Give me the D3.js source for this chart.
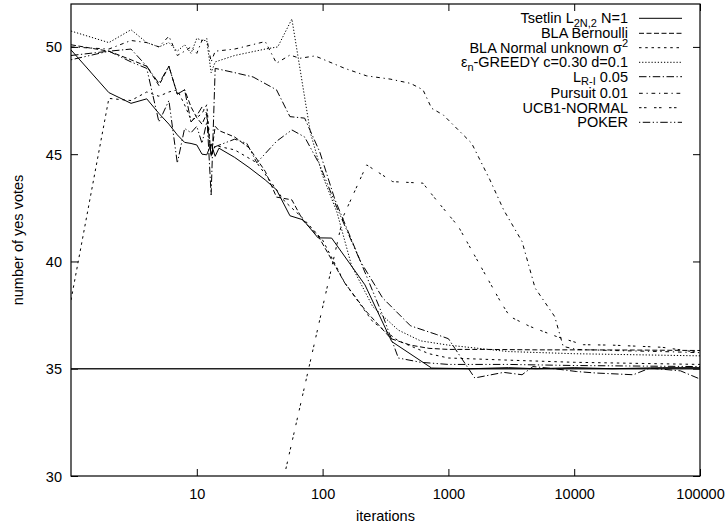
<!DOCTYPE html>
<html><head><meta charset="utf-8">
<script src="https://cdn.jsdelivr.net/npm/d3@7"></script>
<style>body{margin:0;background:#fff}svg text{font-family:"Liberation Sans",Arial,sans-serif;font-size:14.5px;fill:#000}</style>
</head><body>
<svg id="c" width="727" height="527"></svg>
<script>
// ---- data ----
const xTicks = [10, 100, 1000, 10000, 100000];
const yTicks = [30, 35, 40, 45, 50];
const xDomain = [1, 100000];
const yDomain = [30, 52];
const targetVotes = 35;
const xLabel = "iterations";
const yLabel = "number of yes votes";

const tsetlin = [[1,49.86],[2,47.87],[3,47.37],[4,47.58],[5,46.9],[6,46.4],[7,45.9],[8,45.55],[9,45.5],[10,45.43],[11,45.0],[12,44.97],[13,45.48],[14,44.9],[15,45.28],[20,44.85],[26,44.38],[35,43.8],[43,43.34],[55,42.13],[70,41.94],[92,41.1],[118,41.09],[217,38.91],[354,36.27],[736,35.03],[1500,35.0],[3000,35.05],[5000,35.0],[10000,35.05],[20000,35.0],[50000,35.05],[100000,35.05]];
const blaBernoulli = [[1,50.1],[2,49.8],[3,49.4],[4,49.1],[5,48.2],[6,49.1],[7,47.8],[8,48.0],[9,47.2],[10,46.7],[11,46.4],[12,46.9],[13,44.9],[14,46.3],[15,46.1],[20,45.8],[26,45.3],[35,44.2],[43,43.0],[48,42.95],[57,42.87],[70,41.9],[92,41.2],[150,39.0],[220,37.7],[350,36.4],[500,36.1],[700,35.95],[1000,35.9],[2000,35.9],[5000,35.88],[10000,35.88],[30000,35.87],[100000,35.85]];
const blaNormal = [[1,38.2],[2,47.6],[3,47.5],[4,47.9],[5,47.7],[6,47.9],[7,48.0],[8,47.3],[9,46.6],[10,46.7],[11,46.9],[12,47.3],[13,44.9],[14,45.4],[20,45.2],[30,44.6],[40,43.6],[50,42.8],[70,42.0],[100,41.0],[150,39.0],[250,37.2],[400,36.3],[700,35.7],[1000,35.5],[3000,35.4],[10000,35.3],[100000,35.2]];
const epsGreedy = [[1,50.74],[2,50.2],[3,50.8],[4,50.2],[5,50.0],[6,50.2],[7,49.8],[8,50.1],[9,49.7],[10,50.4],[11,50.3],[12,50.3],[13,48.8],[14,49.3],[20,49.6],[35,49.9],[44,50.0],[57,51.3],[80,46.0],[100,44.0],[130,42.3],[170,39.8],[250,37.9],[400,36.8],[600,36.3],[1000,36.1],[3000,35.8],[10000,35.7],[100000,35.6]];
const lri = [[1,49.6],[2,49.8],[3,49.9],[4,49.1],[5,48.3],[6,49.1],[7,47.8],[8,48.0],[9,46.5],[10,46.8],[11,47.2],[12,46.9],[13,43.1],[14,49.0],[20,48.8],[28,48.6],[43,48.0],[55,46.75],[72,46.68],[95,45.1],[125,42.9],[200,40.0],[300,38.3],[500,37.0],[800,36.6],[1000,36.4],[1350,35.26],[1620,34.57],[2750,34.83],[3850,34.72],[4700,35.1],[7000,35.0],[10400,34.87],[14900,34.8],[29500,34.72],[40000,35.03],[70000,34.9],[100000,34.52]];
const pursuit = [[1,50.0],[2,49.9],[3,50.3],[4,50.2],[5,50.0],[6,50.5],[7,49.6],[8,49.8],[9,50.0],[10,49.7],[11,50.3],[12,50.4],[13,49.3],[14,49.8],[20,49.9],[35,50.25],[43,49.24],[55,49.62],[66,49.47],[87,49.58],[150,49.0],[224,48.65],[344,48.5],[500,48.3],[628,48.0],[735,47.14],[910,46.83],[1530,45.51],[2140,43.8],[2750,42.4],[3850,40.93],[4890,38.76],[7000,37.43],[8170,36.04],[10400,35.9],[20000,35.85],[50000,35.8],[100000,35.75]];
const ucb1Normal = [[40,27.6],[146,42.1],[224,44.5],[361,43.72],[627,43.65],[800,42.87],[1200,41.63],[2593,38.13],[3080,37.43],[4450,36.97],[7250,36.5],[11800,36.12],[20000,36.1],[50000,36.0],[100000,35.75]];
const poker = [[1,49.4],[2,49.8],[3,49.3],[4,49.0],[5,46.5],[6,47.5],[7,44.58],[8,46.2],[9,46.0],[10,46.3],[11,45.5],[12,46.5],[13,45.0],[14,45.35],[20,45.7],[25,45.5],[30,44.6],[43,45.6],[57,46.13],[72,45.8],[95,44.5],[130,42.5],[200,40.0],[300,37.5],[400,35.5],[600,35.3],[1000,35.2],[3000,35.2],[10000,35.15],[100000,35.1]];

const seriesData = [tsetlin, blaBernoulli, blaNormal, epsGreedy, lri, pursuit, ucb1Normal, poker];
const seriesLabels = [
  [["Tsetlin L",""],["2N,2","sub"],[" N=1",""]],
  [["BLA Bernoulli",""]],
  [["BLA Normal unknown σ",""],["2","sup"]],
  [["ε",""],["n","sub"],["-GREEDY c=0.30 d=0.1",""]],
  [["L",""],["R-I","sub"],[" 0.05",""]],
  [["Pursuit 0.01",""]],
  [["UCB1-NORMAL",""]],
  [["POKER",""]]
];

// ---- styles ----
const dashBase = [null,[4,2],[2,3],[1,1.5],[6,2,1,2],[3,3,1,3],[2,2,2,6],[1,2,6,2,1,2]];
const dashScale = 1.25;
const dashes = dashBase.map(d => d ? d.map(v => v*dashScale).join(",") : null);

const L = 71, R = 700, T = 4, B = 476;
const svg = d3.select("#c");
const x = d3.scaleLog().domain(xDomain).range([L, R]);
const y = d3.scaleLinear().domain(yDomain).range([B, T]);

svg.append("defs").append("clipPath").attr("id","clip")
  .append("rect").attr("x",L).attr("y",T).attr("width",R-L).attr("height",B-T);

// axes (gnuplot style, inward ticks, mirrored)
const tickLen = 7;
const axB = svg.append("g").attr("transform",`translate(0,${B})`)
  .call(d3.axisBottom(x).tickValues(xTicks).tickFormat(d3.format("d")).tickSizeInner(-tickLen).tickSizeOuter(0));
const axT = svg.append("g").attr("transform",`translate(0,${T})`)
  .call(d3.axisTop(x).tickValues(xTicks).tickFormat("").tickSizeInner(-tickLen).tickSizeOuter(0));
const axL = svg.append("g").attr("transform",`translate(${L},0)`)
  .call(d3.axisLeft(y).tickValues(yTicks).tickFormat(d3.format("d")).tickSizeInner(-tickLen).tickSizeOuter(0));
const axR = svg.append("g").attr("transform",`translate(${R},0)`)
  .call(d3.axisRight(y).tickValues(yTicks).tickFormat("").tickSizeInner(-tickLen).tickSizeOuter(0));
[axB,axT,axL,axR].forEach(a => {
  a.select(".domain").remove();
  a.selectAll("line").attr("stroke","#000").attr("stroke-width",1);
  a.selectAll("text").attr("font-size","14.5px").attr("font-family",null);
});
axB.selectAll("text").attr("dy","0.71em").attr("y",13);
axL.selectAll("text").attr("x",-9).attr("dy","0.35em");

// target line
svg.append("line").attr("x1",L).attr("x2",R).attr("y1",y(targetVotes)).attr("y2",y(targetVotes))
  .attr("stroke","#222").attr("stroke-width",1.3);

// series
const line = d3.line().x(d => x(d[0])).y(d => y(d[1]));
const gS = svg.append("g").attr("clip-path","url(#clip)");
seriesData.forEach((s,i) => {
  gS.append("path").datum(s).attr("d",line).attr("fill","none")
    .attr("stroke","#000").attr("stroke-width",1)
    .attr("stroke-dasharray",dashes[i]);
});

// legend
const legY = [18.3, 33.3, 47.7, 62.3, 76.7, 93.3, 107.7, 122.3];
const legTextX = 628, legLine0 = 639, legLine1 = 682;
seriesLabels.forEach((parts,i) => {
  const t = svg.append("text").attr("x",legTextX).attr("y",legY[i]+5).attr("text-anchor","end");
  let shift = 0;
  parts.forEach(([txt,mode]) => {
    const target = mode==="sub" ? 3.5 : mode==="sup" ? -5.5 : 0;
    const ts = t.append("tspan").text(txt).attr("dy", target - shift);
    if (mode) ts.attr("font-size","11px");
    shift = target;
  });
  svg.append("line").attr("x1",legLine0).attr("x2",legLine1).attr("y1",legY[i]).attr("y2",legY[i])
    .attr("stroke","#000").attr("stroke-width",1).attr("stroke-dasharray",dashes[i]);
});

// frame
svg.append("rect").attr("x",L).attr("y",T).attr("width",R-L).attr("height",B-T)
  .attr("fill","none").attr("stroke","#000").attr("stroke-width",1.2);

// axis labels
svg.append("text").attr("x",(L+R)/2).attr("y",521).attr("text-anchor","middle").text(xLabel);
svg.append("text").attr("transform",`translate(23,${(T+B)/2}) rotate(-90)`).attr("text-anchor","middle").text(yLabel);
</script>
</body></html>
